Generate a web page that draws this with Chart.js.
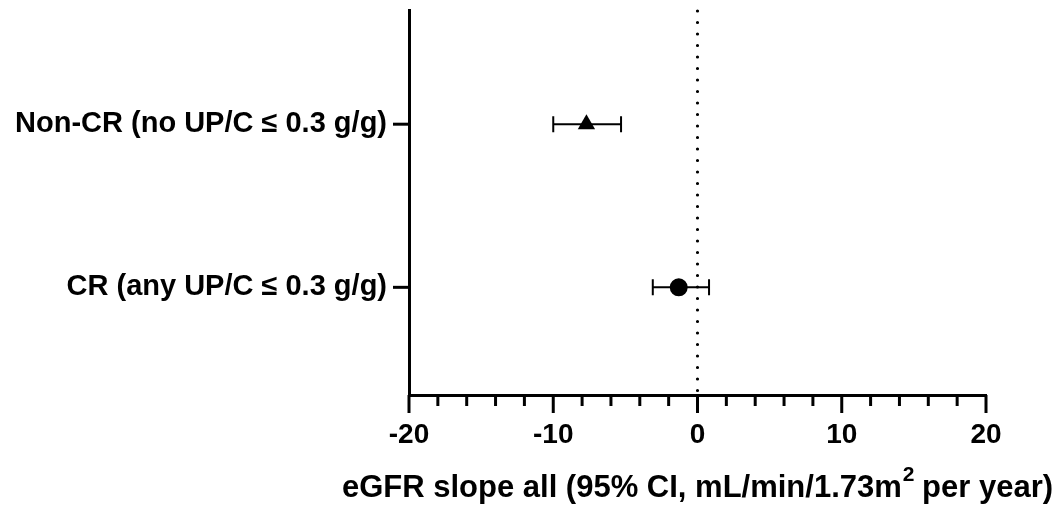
<!DOCTYPE html>
<html>
<head>
<meta charset="utf-8">
<script src="https://cdn.jsdelivr.net/npm/chart.js@4.4.1/dist/chart.umd.min.js"></script>
<style>
    html, body { margin: 0; padding: 0; background: #fff; }
    #wrap { width: 1063px; height: 505px; }
</style>
</head>
<body>
<div id="wrap"><canvas id="forest-chart"></canvas></div>
<script>
// Forest plot data
const groups = ['CR (any UP/C \u2264 0.3 g/g)', 'Non-CR (no UP/C \u2264 0.3 g/g)'];
const groupPos = [1, 2];
const estimates = [-1.3, -7.7];
const lowerCI = [-3.1, -10.0];
const upperCI = [0.8, -5.3];
const markerShapes = ['circle', 'triangle'];
const xTicks = [-20, -10, 0, 10, 20];
const xMinorStep = 2;

const FONT = '"Liberation Sans", Arial, sans-serif';

// Error bars, minor ticks, reference line and axis title
const forestPlugin = {
    id: 'forestExtras',
    beforeDatasetsDraw(chart) {
        const ctx = chart.ctx;
        const x = chart.scales.x;
        const y = chart.scales.y;
        const area = chart.chartArea;

        // dotted line at zero
        ctx.save();
        ctx.strokeStyle = '#000';
        ctx.lineWidth = 3.2;
        ctx.lineCap = 'round';
        ctx.setLineDash([0, 11.5]);
        const zx = x.getPixelForValue(0);
        ctx.beginPath();
        ctx.moveTo(zx, area.top + 1);
        ctx.lineTo(zx, area.bottom);
        ctx.stroke();
        ctx.restore();

        // whiskers
        ctx.save();
        ctx.strokeStyle = '#000';
        ctx.lineWidth = 2;
        groupPos.forEach((g, i) => {
            const py = y.getPixelForValue(g);
            const x1 = x.getPixelForValue(lowerCI[i]);
            const x2 = x.getPixelForValue(upperCI[i]);
            ctx.beginPath();
            ctx.moveTo(x1, py);
            ctx.lineTo(x2, py);
            ctx.moveTo(x1, py - 8);
            ctx.lineTo(x1, py + 8);
            ctx.moveTo(x2, py - 8);
            ctx.lineTo(x2, py + 8);
            ctx.stroke();
        });
        ctx.restore();
    },
    afterDraw(chart) {
        const ctx = chart.ctx;
        const x = chart.scales.x;
        const y = chart.scales.y;
        const area = chart.chartArea;
        ctx.save();
        ctx.strokeStyle = '#000';
        ctx.lineWidth = 3;

        // x ticks: major and minor
        for (let v = x.min; v <= x.max + 0.001; v += xMinorStep) {
            const px = x.getPixelForValue(v);
            const len = xTicks.includes(v) ? 18 : 11;
            ctx.beginPath();
            ctx.moveTo(px, area.bottom);
            ctx.lineTo(px, area.bottom + len);
            ctx.stroke();
        }
        // y ticks at groups
        groupPos.forEach(g => {
            const py = y.getPixelForValue(g);
            ctx.beginPath();
            ctx.moveTo(area.left, py);
            ctx.lineTo(area.left - 16, py);
            ctx.stroke();
        });

        // x axis title with superscript
        const main1 = 'eGFR slope all (95% CI, mL/min/1.73m';
        const sup = '2';
        const main2 = ' per year)';
        ctx.fillStyle = '#000';
        ctx.textBaseline = 'alphabetic';
        ctx.font = 'bold 31px ' + FONT;
        const w1 = ctx.measureText(main1).width;
        const w3 = ctx.measureText(main2).width;
        ctx.font = 'bold 21px ' + FONT;
        const w2 = ctx.measureText(sup).width;
        const total = w1 + w2 + w3;
        let tx = (area.left + area.right) / 2 - total / 2;
        const ty = 497;
        ctx.font = 'bold 31px ' + FONT;
        ctx.fillText(main1, tx, ty);
        ctx.font = 'bold 21px ' + FONT;
        ctx.fillText(sup, tx + w1 + 1, ty - 16);
        ctx.font = 'bold 31px ' + FONT;
        ctx.fillText(main2, tx + w1 + w2, ty);
        ctx.restore();
    }
};

const noPad = (scale) => {
    scale.paddingTop = 0;
    scale.paddingBottom = 0;
    scale.paddingLeft = 0;
    scale.paddingRight = 0;
};

const ctx = document.getElementById('forest-chart');
new Chart(ctx, {
    type: 'scatter',
    data: {
        datasets: [{
            label: 'Estimate',
            data: groupPos.map((g, i) => ({ x: estimates[i], y: g })),
            pointStyle: markerShapes,
            pointRadius: [9, 10],
            backgroundColor: '#000',
            borderColor: '#000',
            borderWidth: 0
        }]
    },
    options: {
        responsive: true,
        maintainAspectRatio: false,
        animation: false,
        layout: { padding: { top: 10, right: 77, bottom: 0, left: 0 } },
        plugins: {
            legend: { display: false },
            tooltip: { enabled: false }
        },
        scales: {
            x: {
                type: 'linear',
                min: -20,
                max: 20,
                afterBuildTicks: (scale) => { scale.ticks = xTicks.map(v => ({ value: v })); },
                afterFit: (scale) => { scale.height = 110; noPad(scale); },
                grid: { display: false },
                border: { display: true, color: '#000', width: 3 },
                ticks: {
                    color: '#000',
                    padding: 15,
                    font: { family: FONT, size: 28, weight: 'bold' }
                }
            },
            y: {
                type: 'linear',
                min: 0.34,
                max: 2.7,
                afterBuildTicks: (scale) => { scale.ticks = groupPos.map(v => ({ value: v })); },
                afterFit: (scale) => { scale.width = 409; noPad(scale); },
                grid: { display: false },
                border: { display: true, color: '#000', width: 3 },
                ticks: {
                    color: '#000',
                    padding: 14,
                    font: { family: FONT, size: 29, weight: 'bold' },
                    callback: (v) => groups[groupPos.indexOf(v)] || ''
                }
            }
        }
    },
    plugins: [forestPlugin]
});
</script>
</body>
</html>
